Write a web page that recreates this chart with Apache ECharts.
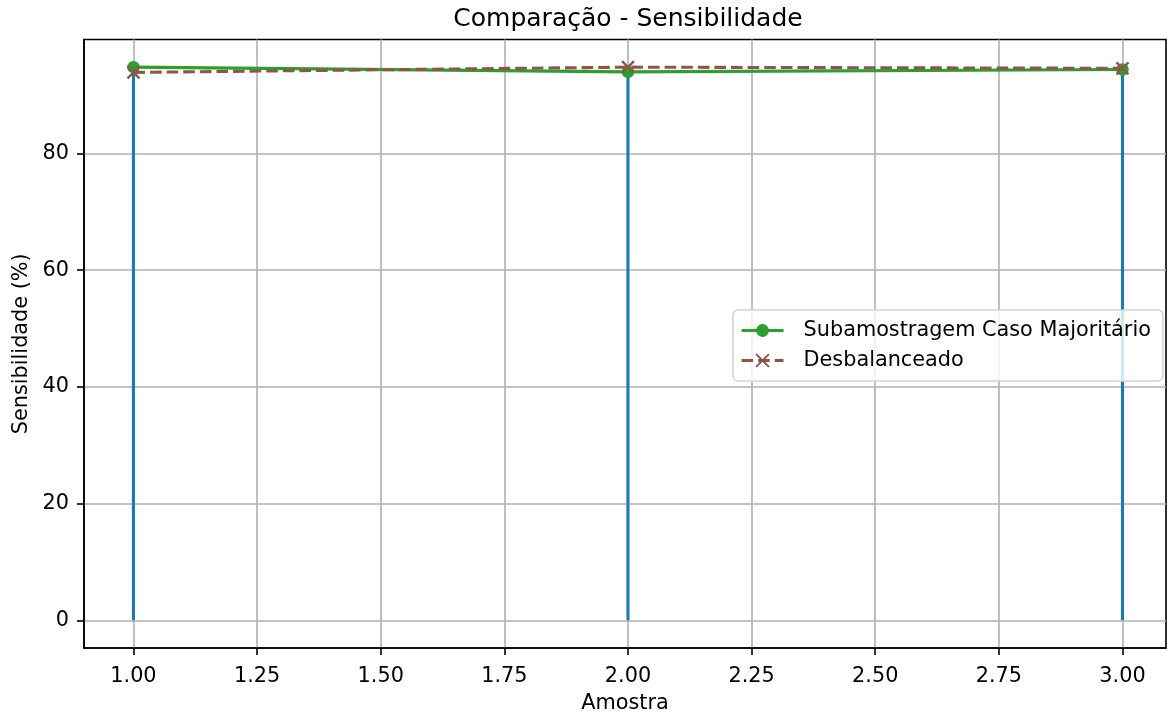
<!DOCTYPE html>
<html>
<head>
<meta charset="utf-8">
<title>Comparação - Sensibilidade</title>
<script src="https://cdn.jsdelivr.net/npm/echarts@6/dist/echarts.min.js"></script>
<style>
  html, body { margin: 0; padding: 0; background: #fff; }
  #chart { width: 1167px; height: 719px; }
</style>
</head>
<body>
<div id="chart"></div>
<script>
// Sample index on the x axis
const amostras = [1, 2, 3];
// Sensitivity (%) per sample
const subamostragem = [94.8, 94.0, 94.4];
const desbalanceado = [93.9, 94.8, 94.6];
// Vertical stems drawn from zero at each sample
const hastes = [94.8, 94.0, 94.4];
// Tick positions
const xTicks = [1.00, 1.25, 1.50, 1.75, 2.00, 2.25, 2.50, 2.75, 3.00];
const yTicks = [0, 20, 40, 60, 80];

const FONT = 'DejaVu Sans';
const LABEL_SIZE = 20.8;

const chart = echarts.init(document.getElementById('chart'), null, { renderer: 'canvas' });

const option = {
  animation: false,
  backgroundColor: '#ffffff',
  textStyle: { fontFamily: FONT, color: '#000' },
  title: {
    text: 'Comparação - Sensibilidade',
    left: 628,
    textAlign: 'center',
    top: 7,
    padding: 0,
    textStyle: { fontFamily: FONT, fontSize: 25, fontWeight: 'normal', color: '#000' }
  },
  grid: {
    left: 84, top: 39.5, width: 1082, height: 612,
    show: true, borderColor: '#000', borderWidth: 1.6, backgroundColor: 'transparent',
    containLabel: false
  },
  legend: {
    orient: 'vertical',
    left: 733, top: 310,
    padding: [10, 12, 10, 7],
    itemWidth: 42, itemHeight: 16, itemGap: 9,
    backgroundColor: 'rgba(255,255,255,0.8)',
    borderColor: '#d4d4d4', borderWidth: 1.6, borderRadius: 5,
    lineStyle: { width: 3.1 },
    textStyle: { fontFamily: FONT, fontSize: LABEL_SIZE, color: '#000', padding: [0, 0, 0, 15] },
    data: ['Subamostragem Caso Majoritário', 'Desbalanceado']
  },
  xAxis: {
    type: 'value',
    min: 0.9, max: 3.088,
    name: 'Amostra',
    nameLocation: 'middle',
    nameGap: 45,
    nameTextStyle: { fontFamily: FONT, fontSize: LABEL_SIZE, color: '#000' },
    axisLine: { show: true, onZero: false, lineStyle: { color: '#000', width: 1.6 } },
    axisTick: { show: true, length: 7, customValues: xTicks, lineStyle: { color: '#000', width: 1.6 } },
    axisLabel: {
      customValues: xTicks, margin: 18,
      fontFamily: FONT, fontSize: LABEL_SIZE, color: '#000',
      formatter: v => v.toFixed(2)
    },
    splitLine: { show: true, lineStyle: { color: '#b0b0b0', width: 1.6 } }
  },
  yAxis: {
    type: 'value',
    min: -4.74, max: 99.54,
    name: 'Sensibilidade (%)',
    nameLocation: 'middle',
    nameRotate: 90,
    nameGap: 52,
    nameTextStyle: { fontFamily: FONT, fontSize: LABEL_SIZE, color: '#000' },
    axisLine: { show: true, onZero: false, lineStyle: { color: '#000', width: 1.6 } },
    axisTick: { show: true, length: 7, customValues: yTicks, lineStyle: { color: '#000', width: 1.6 } },
    axisLabel: {
      customValues: yTicks, margin: 15,
      fontFamily: FONT, fontSize: LABEL_SIZE, color: '#000'
    },
    splitLine: { show: true, lineStyle: { color: '#b0b0b0', width: 1.6 } }
  },
  series: [
    {
      name: 'hastes',
      type: 'custom',
      z: 1,
      renderItem: function (params, api) {
        const x = api.value(0), y = api.value(1);
        const p0 = api.coord([x, 0]);
        const p1 = api.coord([x, y]);
        return {
          type: 'line',
          shape: { x1: p0[0], y1: p0[1], x2: p1[0], y2: p1[1] },
          style: { stroke: '#1f77b4', lineWidth: 3.1 }
        };
      },
      data: amostras.map((a, i) => [a, hastes[i]])
    },
    {
      name: 'Subamostragem Caso Majoritário',
      type: 'line',
      z: 2,
      data: amostras.map((a, i) => [a, subamostragem[i]]),
      symbol: 'circle',
      symbolSize: 12.5,
      showAllSymbol: true,
      lineStyle: { color: '#2ca02c', width: 3.1 },
      itemStyle: { color: '#2ca02c', borderColor: '#2ca02c', borderWidth: 0 }
    },
    {
      name: 'Desbalanceado',
      type: 'line',
      z: 3,
      data: amostras.map((a, i) => [a, desbalanceado[i]]),
      symbol: 'path://M0,0L10,10M10,0L0,10',
      symbolSize: 12,
      showAllSymbol: true,
      lineStyle: { color: '#8c564b', width: 3.1, type: [11.6, 5] },
      itemStyle: { color: 'none', borderColor: '#8c564b', borderWidth: 2.4 }
    }
  ]
};

chart.setOption(option);
</script>
</body>
</html>
